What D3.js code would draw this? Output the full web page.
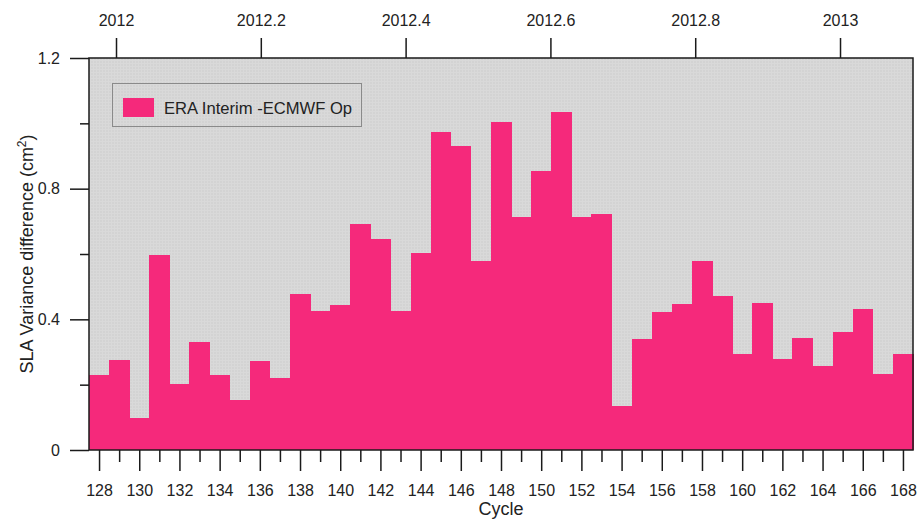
<!DOCTYPE html>
<html>
<head>
<meta charset="utf-8">
<script src="https://cdn.jsdelivr.net/npm/d3@7/dist/d3.min.js"></script>
<style>
  html, body { margin: 0; padding: 0; background: #ffffff; }
  svg { display: block; font-family: "Liberation Sans", Arial, Helvetica, sans-serif; }
</style>
</head>
<body>
<svg id="chart" width="918" height="520"></svg>
<script>
// ---- data ----
const cycles = [128,129,130,131,132,133,134,135,136,137,138,139,140,141,142,143,144,145,146,147,148,
                149,150,151,152,153,154,155,156,157,158,159,160,161,162,163,164,165,166,167,168];
const variance = [0.23,0.277,0.098,0.596,0.202,0.33,0.231,0.152,0.273,0.219,0.477,0.424,0.444,0.693,0.647,0.424,0.602,0.975,0.932,0.578,1.005,
                  0.712,0.854,1.036,0.712,0.722,0.136,0.341,0.421,0.446,0.579,0.470,0.293,0.451,0.278,0.342,0.257,0.361,0.432,0.233,0.293];
const seriesName = "ERA Interim -ECMWF Op";
const yTicks = [0, 0.4, 0.8, 1.2];
const yMinorTicks = [0.2, 0.6, 1.0];
const cycleTicks = [128,130,132,134,136,138,140,142,144,146,148,150,152,154,156,158,160,162,164,166,168];
const cycleMinorTicks = [129,131,133,135,137,139,141,143,145,147,149,151,153,155,157,159,161,163,165,167];
const yearTicks = [2012, 2012.2, 2012.4, 2012.6, 2012.8, 2013];
const yearDomain = [2011.9627, 2013.1008];

// ---- layout ----
const svg = d3.select("#chart");
const L = 89, R = 913, T = 58, B = 450;
const barColor = "#f5297b";
const ink = "#1a1a1a";
const FONT = "Liberation Sans, Arial, sans-serif";

const x = d3.scaleLinear().domain([127.5, 168.5]).range([L, R]);
const y = d3.scaleLinear().domain([0, 1.2]).range([B, T]);
const xTop = d3.scaleLinear().domain(yearDomain).range([L, R]);

// background pattern
const defs = svg.append("defs");
const pat = defs.append("pattern").attr("id", "mesh").attr("patternUnits", "userSpaceOnUse")
  .attr("width", 3).attr("height", 3);
pat.append("rect").attr("width", 3).attr("height", 3).attr("fill", "#d3d3d3");
pat.append("rect").attr("width", 3).attr("height", 1).attr("fill", "#d9d9d9");
pat.append("rect").attr("width", 1).attr("height", 3).attr("fill", "#d9d9d9");

svg.append("rect").attr("x", L).attr("y", T).attr("width", R - L).attr("height", B - T)
  .attr("fill", "url(#mesh)");

// bars
svg.append("g").attr("shape-rendering", "crispEdges").selectAll("rect").data(cycles).join("rect")
  .attr("x", (c) => x(c - 0.5))
  .attr("width", (c) => x(c + 0.5) - x(c - 0.5) + 0.5)
  .attr("y", (c, i) => y(variance[i]))
  .attr("height", (c, i) => B - y(variance[i]))
  .attr("fill", barColor);

// frame
svg.append("rect").attr("x", L).attr("y", T).attr("width", R - L).attr("height", B - T)
  .attr("fill", "none").attr("stroke", ink).attr("stroke-width", 1.5);

function styleTicks(g, size) {
  g.select(".domain").remove();
  g.selectAll(".tick line").attr("stroke", ink).attr("stroke-width", 1.5);
  if (size) g.selectAll(".tick text").attr("font-size", size).attr("fill", "#222").attr("font-family", FONT);
}

// left axis
const yAxis = d3.axisLeft(y).tickValues(yTicks).tickSize(19).tickPadding(10)
  .tickFormat((d) => d === 0 ? "0" : d3.format(".1f")(d));
styleTicks(svg.append("g").attr("transform", `translate(${L},0)`).call(yAxis), 16);
styleTicks(svg.append("g").attr("transform", `translate(${L},0)`)
  .call(d3.axisLeft(y).tickValues(yMinorTicks).tickSize(9).tickFormat("")));

// bottom axis
const xAxis = d3.axisBottom(x).tickValues(cycleTicks).tickSize(21).tickPadding(14).tickFormat(d3.format("d"));
styleTicks(svg.append("g").attr("transform", `translate(0,${B})`).call(xAxis), 16);
styleTicks(svg.append("g").attr("transform", `translate(0,${B})`)
  .call(d3.axisBottom(x).tickValues(cycleMinorTicks).tickSize(12).tickFormat("")));

// top axis (years)
const xTopAxis = d3.axisTop(xTop).tickValues(yearTicks).tickSize(20).tickPadding(12)
  .tickFormat((d) => Number.isInteger(d) ? String(d) : d3.format(".1f")(d));
styleTicks(svg.append("g").attr("transform", `translate(0,${T})`).call(xTopAxis), 16);

// axis titles
svg.append("text").attr("x", x(148)).attr("y", 515).attr("text-anchor", "middle")
  .attr("font-size", 18).attr("fill", "#222").text("Cycle");
const yt = svg.append("text").attr("transform", `translate(33,${(T + B) / 2}) rotate(-90)`)
  .attr("text-anchor", "middle").attr("font-size", 18).attr("fill", "#222");
yt.append("tspan").text("SLA Variance difference (cm");
yt.append("tspan").attr("font-size", 12).attr("dy", -7).text("2");
yt.append("tspan").attr("dy", 7).text(")");

// legend
const lg = svg.append("g");
lg.append("rect").attr("x", 112.5).attr("y", 83.5).attr("width", 249).attr("height", 43)
  .attr("fill", "none").attr("stroke", "#8a8a8a").attr("stroke-width", 1);
lg.append("rect").attr("x", 123).attr("y", 98).attr("width", 31).attr("height", 19).attr("fill", barColor);
lg.append("text").attr("x", 164).attr("y", 113.5).attr("font-size", 16.6).attr("fill", "#222").text(seriesName);
</script>
</body>
</html>
